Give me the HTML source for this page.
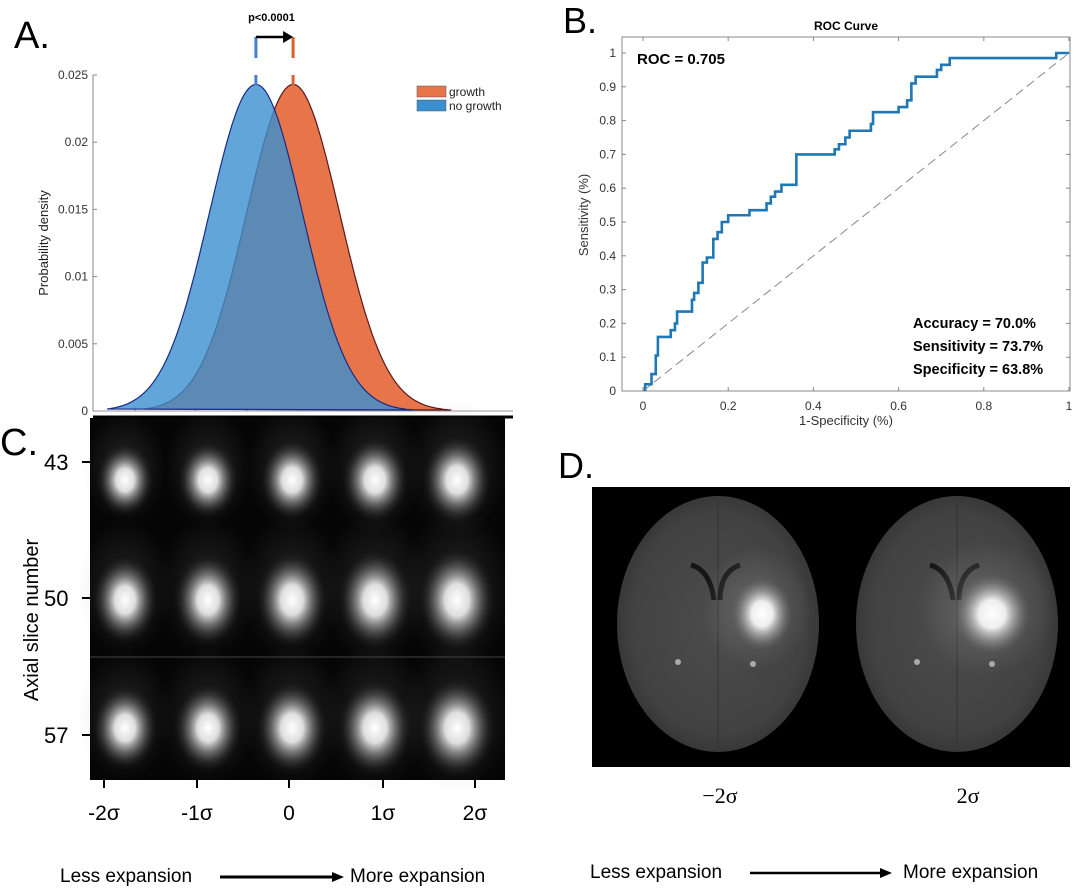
<!DOCTYPE html>
<html><head><meta charset="utf-8"><style>
html,body{margin:0;padding:0;background:#fff;}
svg{display:block;font-family:"Liberation Sans",sans-serif;}
</style></head><body>
<svg id="fig" width="1080" height="891" viewBox="0 0 1080 891">
<defs>
<radialGradient id="blob" cx="50%" cy="50%" r="50%">
<stop offset="0" stop-color="#fff" stop-opacity="1"/>
<stop offset="0.3" stop-color="#e8e8e8" stop-opacity="0.95"/>
<stop offset="0.6" stop-color="#888" stop-opacity="0.55"/>
<stop offset="0.85" stop-color="#333" stop-opacity="0.2"/>
<stop offset="1" stop-color="#000" stop-opacity="0"/>
</radialGradient>
<radialGradient id="tumor" cx="50%" cy="50%" r="50%">
<stop offset="0" stop-color="#fff"/>
<stop offset="0.35" stop-color="#eee"/>
<stop offset="0.7" stop-color="#999" stop-opacity="0.6"/>
<stop offset="1" stop-color="#666" stop-opacity="0"/>
</radialGradient>
<radialGradient id="halo" cx="50%" cy="50%" r="50%">
<stop offset="0" stop-color="#888" stop-opacity="0.5"/>
<stop offset="1" stop-color="#888" stop-opacity="0"/>
</radialGradient>
<radialGradient id="brainG" cx="50%" cy="50%" r="50%">
<stop offset="0" stop-color="#4c4c4c"/>
<stop offset="0.85" stop-color="#424242"/>
<stop offset="1" stop-color="#383838"/>
</radialGradient>
</defs>

<text x="14" y="48" font-size="38">A.</text>
<text x="563" y="33" font-size="36">B.</text>
<text x="0" y="455" font-size="38">C.</text>
<text x="558" y="478" font-size="36">D.</text>

<g id="panelA"></g>
<g id="panelB"></g>
<g id="panelC"></g>
<g id="panelD"></g>
</svg>
<script>
const NS="http://www.w3.org/2000/svg";
function mk(tag,attrs,parent,text){const e=document.createElementNS(NS,tag);for(const k in attrs)e.setAttribute(k,attrs[k]);if(text!==undefined)e.textContent=text;parent.appendChild(e);return e;}

// ===== Panel A data =====
const densNames=["no growth","growth"];
const densMeans=[-0.4,0.4];
const densSds=[1.0,1.0];
const densPeaks=[0.0243,0.0243];
const densColors=["#3a8fd0","#e8744a"];
const densYTicks=[0,0.005,0.01,0.015,0.02,0.025];
const densYTickLabels=["0","0.005","0.01","0.015","0.02","0.025"];
const densXTicks=[-3,-1.7,-0.6,0.5,1.6,2.7];

const A=document.getElementById('panelA');
const aX0=93,aY0=411,aY1=75;
const axA=v=>274.5+v*46.5;
const ayA=v=>aY0-(v/0.025)*(aY0-aY1);
mk('line',{x1:aX0,y1:aY1,x2:aX0,y2:aY0,stroke:'#888','stroke-width':1},A);
mk('line',{x1:aX0,y1:aY0,x2:aX0+420,y2:aY0,stroke:'#999','stroke-width':1},A);
mk('line',{x1:aX0,y1:417,x2:aX0+420,y2:417,stroke:'#000','stroke-width':3},A);
densYTicks.forEach((t,i)=>{
 const y=ayA(t);
 const tk=mk('line',{x1:aX0,y1:y,x2:aX0+4,y2:y,stroke:'#888'},A);
 
 const lb=mk('text',{x:aX0-5,y:y+4,'font-size':12,'text-anchor':'end',fill:'#333'},A,densYTickLabels[i]);
 
});
densXTicks.forEach(t=>{const x=axA(t);const tk=mk('line',{x1:x,y1:aY0,x2:x,y2:aY0-4,stroke:'#888'},A);});
const yt=mk('text',{x:0,y:0,'font-size':13,'text-anchor':'middle',fill:'#222',transform:'translate(48,243) rotate(-90)'},A,'Probability density');

function curve(i){
 let d='';const m=densMeans[i],s=densSds[i],p=densPeaks[i];
 const lo=m-3.2*s,hi=m+3.4*s;
 for(let k=0;k<=120;k++){const v=lo+(hi-lo)*k/120;const dens=p*Math.exp(-0.5*((v-m)/s)**2);d+=(k?'L':'M')+axA(v).toFixed(1)+','+ayA(dens).toFixed(1);}
 return d;
}
[1,0].forEach(i=>{
 const p=mk('path',{d:curve(i)+'Z',fill:densColors[i],'fill-opacity':i===0?0.8:1,stroke:i===0?'#1a2a8a':'#5a1a1a','stroke-width':1.2},A);
 
 
});
[[1,86],[0,100]].forEach(([i,y])=>{
 const r=mk('rect',{x:417,y:y,width:29,height:11,fill:densColors[i],stroke:'#555','stroke-width':0.5},A);
 
 const t=mk('text',{x:449,y:y+10,'font-size':12,fill:'#222'},A,densNames[i]);
 
});
const bx0=axA(densMeans[0]),bx1=axA(densMeans[1]);
mk('line',{x1:bx0,y1:37,x2:bx0,y2:58,stroke:'#4a7fd0','stroke-width':3},A);
mk('line',{x1:bx0,y1:75,x2:bx0,y2:85,stroke:'#4a7fd0','stroke-width':3},A);
mk('line',{x1:bx1,y1:37,x2:bx1,y2:58,stroke:'#d9632e','stroke-width':3},A);
mk('line',{x1:bx1,y1:75,x2:bx1,y2:85,stroke:'#d9632e','stroke-width':3},A);
mk('line',{x1:bx0,y1:37,x2:bx1-8,y2:37,stroke:'#000','stroke-width':2.5},A);
mk('path',{d:`M${bx1-10},31 L${bx1},37 L${bx1-10},43Z`,fill:'#000'},A);
const pv=mk('text',{x:(bx0+bx1)/2-3,y:21,'font-size':11,'font-weight':'bold','text-anchor':'middle'},A,'p<0.0001');


// ===== Panel B data (each pair: at this FPR, TPR rises to value) =====
const rocFpr=[0.005,0.02,0.03,0.035,0.065,0.075,0.08,0.115,0.12,0.13,0.14,0.15,0.165,0.175,0.185,0.2,0.25,0.29,0.3,0.31,0.325,0.36,0.45,0.46,0.475,0.485,0.535,0.54,0.6,0.62,0.63,0.64,0.69,0.7,0.72,0.97,1.0];
const rocTpr=[0.02,0.05,0.105,0.16,0.18,0.2,0.235,0.27,0.29,0.32,0.38,0.395,0.45,0.47,0.5,0.52,0.535,0.555,0.575,0.59,0.61,0.7,0.715,0.73,0.75,0.77,0.79,0.825,0.84,0.86,0.91,0.93,0.95,0.965,0.985,1.0,1.0];
const rocTicks=[0,0.1,0.2,0.3,0.4,0.5,0.6,0.7,0.8,0.9,1];
const rocTickLabels=["0","0.1","0.2","0.3","0.4","0.5","0.6","0.7","0.8","0.9","1"];
const rocXTicks=[0,0.2,0.4,0.6,0.8,1];
const rocXTickLabels=["0","0.2","0.4","0.6","0.8","1"];

const B=document.getElementById('panelB');
const bxS=v=>643+v*426, byS=v=>391-v*338;
mk('rect',{x:622,y:37,width:448,height:354,fill:'#fff',stroke:'#888','stroke-width':1},B);
rocTicks.forEach((t,i)=>{
 const y=byS(t);
 mk('line',{x1:622,y1:y,x2:626,y2:y,stroke:'#888'},B);mk('line',{x1:1070,y1:y,x2:1066,y2:y,stroke:'#888'},B);
 const lb=mk('text',{x:616,y:y+4,'font-size':12,'text-anchor':'end',fill:'#333'},B,rocTickLabels[i]);
 
});
rocXTicks.forEach((t,i)=>{
 const x=bxS(t);
 mk('line',{x1:x,y1:391,x2:x,y2:387,stroke:'#888'},B);mk('line',{x1:x,y1:37,x2:x,y2:41,stroke:'#888'},B);
 const lb=mk('text',{x:x,y:410,'font-size':12,'text-anchor':'middle',fill:'#333'},B,rocXTickLabels[i]);
 
});
mk('line',{x1:bxS(0),y1:byS(0),x2:bxS(1),y2:byS(1),stroke:'#888','stroke-width':1,'stroke-dasharray':'9,5'},B);
let rd='M'+bxS(rocFpr[0])+','+byS(0);let prevT=0;
rocFpr.forEach((f,i)=>{rd+=' L'+bxS(f)+','+byS(prevT)+' L'+bxS(f)+','+byS(rocTpr[i]);prevT=rocTpr[i];});
const rl=mk('path',{d:rd,fill:'none',stroke:'#1f77b4','stroke-width':2.6},B);

const tt=mk('text',{x:846,y:30,'font-size':12,'font-weight':'bold','text-anchor':'middle'},B,'ROC Curve');

const xt=mk('text',{x:846,y:425,'font-size':13,'text-anchor':'middle',fill:'#333'},B,'1-Specificity (%)');

const ytb=mk('text',{x:0,y:0,'font-size':13,'text-anchor':'middle',fill:'#333',transform:'translate(588,215) rotate(-90)'},B,'Sensitivity (%)');

const roc=mk('text',{x:637,y:64,'font-size':15,'font-weight':'bold'},B,'ROC = 0.705');

[['Accuracy = 70.0%',328],['Sensitivity = 73.7%',351],['Specificity = 63.8%',374]].forEach(([s,y])=>{
 const t=mk('text',{x:913,y:y,'font-size':14.5,'font-weight':'bold'},B,s);
 
});

// ===== Panel C =====
const sliceLabels=["43","50","57"];
const sigmaLabels=["-2\u03c3","-1\u03c3","0","1\u03c3","2\u03c3"];
const C=document.getElementById('panelC');
mk('rect',{x:90,y:418,width:415,height:362,fill:'#050505'},C);
const rowY=[480,600,728],colX=[125,208,292,375,457];
const tickRowY=[462,598,735],tickColX=[104,197,289,383,475];
rowY.forEach((ry,r)=>colX.forEach((cx,c)=>{
 const w=[30,34,34][r]+c*1.5, h=[38,46,44][r]+c*2;
 mk('ellipse',{cx:cx,cy:ry-12,rx:w*1.4,ry:h*1.5,fill:'url(#halo)','fill-opacity':0.5},C);
 const e=mk('ellipse',{cx:cx,cy:ry,rx:w,ry:h,fill:'url(#blob)'},C);
 
}));
mk('line',{x1:90,y1:657,x2:505,y2:657,stroke:'#444','stroke-width':1},C);
sliceLabels.forEach((s,i)=>{
 mk('line',{x1:82,y1:tickRowY[i],x2:90,y2:tickRowY[i],stroke:'#000','stroke-width':2},C);
 const t=mk('text',{x:44,y:tickRowY[i]+8,'font-size':22},C,s);
 
});
sigmaLabels.forEach((s,i)=>{
 mk('line',{x1:tickColX[i],y1:780,x2:tickColX[i],y2:788,stroke:'#000','stroke-width':2},C);
 const t=mk('text',{x:tickColX[i],y:820,'font-size':21,'text-anchor':'middle'},C,s);
 
});
const at=mk('text',{x:0,y:0,'font-size':20,'text-anchor':'middle',transform:'translate(38,620) rotate(-90)'},C,'Axial slice number');

const lc=mk('text',{x:60,y:882,'font-size':19},C,'Less expansion');

mk('line',{x1:220,y1:877,x2:335,y2:877,stroke:'#000','stroke-width':3},C);
mk('path',{d:'M332,872 L344,877 L332,882Z',fill:'#000'},C);
const mc=mk('text',{x:350,y:882,'font-size':19},C,'More expansion');


// ===== Panel D =====
const D=document.getElementById('panelD');
mk('rect',{x:592,y:487,width:478,height:280,fill:'#000'},D);
const brainX=[718,957],tumorX=[762,992],tumorR=[[30,36],[38,40]],brainLbl=["\u22122\u03c3","2\u03c3"];
brainX.forEach((bx,i)=>{
 const g=mk('ellipse',{cx:bx,cy:624,rx:101,ry:128,fill:'url(#brainG)'},D);
 
 mk('line',{x1:bx,y1:500,x2:bx,y2:748,stroke:'#333','stroke-width':1},D);
 mk('path',{d:`M${bx-27},565 Q${bx-8},570 ${bx-4},600 M${bx+22},565 Q${bx+2},572 ${bx+2},600`,fill:'none',stroke:'#151515','stroke-width':5},D);
 mk('ellipse',{cx:tumorX[i]-6,cy:608,rx:tumorR[i][0]*1.8,ry:tumorR[i][1]*1.7,fill:'url(#halo)'},D);
 const t=mk('ellipse',{cx:tumorX[i],cy:614,rx:tumorR[i][0],ry:tumorR[i][1],fill:'url(#tumor)'},D);
 
 mk('circle',{cx:bx-40,cy:662,r:3,fill:'#aaa'},D);mk('circle',{cx:bx+35,cy:664,r:3,fill:'#aaa'},D);
 const l=mk('text',{x:[720,968][i],y:803,'font-size':22,'text-anchor':'middle','font-family':'Liberation Serif, serif'},D,brainLbl[i]);
 
});
const ld=mk('text',{x:590,y:878,'font-size':19},D,'Less expansion');

mk('line',{x1:750,y1:873,x2:882,y2:873,stroke:'#000','stroke-width':2.5},D);
mk('path',{d:'M880,868 L892,873 L880,878Z',fill:'#000'},D);
const md=mk('text',{x:903,y:878,'font-size':19},D,'More expansion');

</script>
</body></html>
